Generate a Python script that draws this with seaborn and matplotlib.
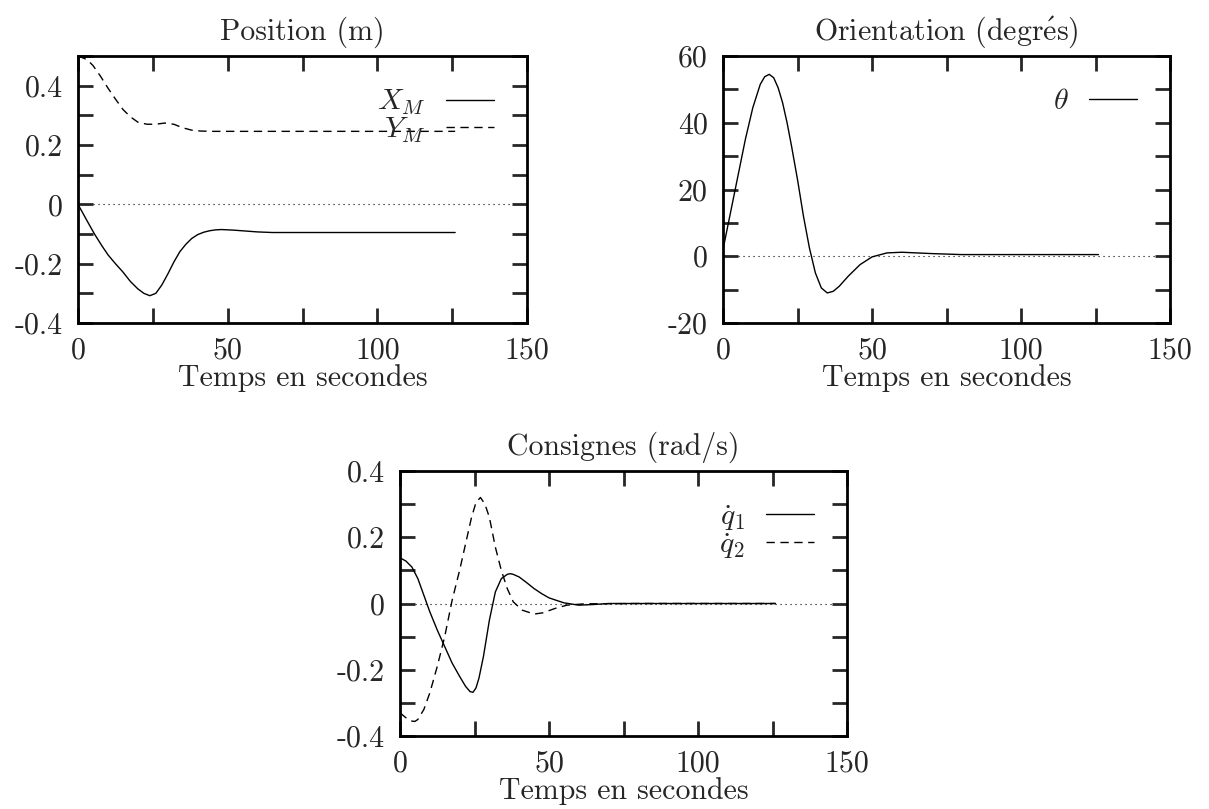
import numpy as np
import matplotlib
matplotlib.use("Agg")
import matplotlib.pyplot as plt
import seaborn as sns

# Position (m)
t_x = [0, 3, 5.5, 8, 10, 12.5, 15, 17.5, 20, 22, 24, 26, 28, 30, 32, 34, 36, 38, 40, 42, 44, 46, 48, 52, 56, 60, 65, 80, 100, 126]
x_m = [0, -0.055, -0.1, -0.14, -0.17, -0.2, -0.228, -0.26, -0.285, -0.3, -0.308, -0.3, -0.272, -0.235, -0.195, -0.16, -0.135, -0.115, -0.102, -0.094, -0.089, -0.086, -0.085, -0.087, -0.09, -0.093, -0.095, -0.095, -0.095, -0.095]
t_y = [0, 3, 5, 7.5, 10, 12.5, 15, 17.5, 20, 23, 26, 29, 32, 35, 38, 41, 45, 60, 80, 100, 126]
y_m = [0.5, 0.488, 0.468, 0.432, 0.392, 0.355, 0.32, 0.295, 0.277, 0.27, 0.27, 0.274, 0.27, 0.258, 0.25, 0.247, 0.246, 0.246, 0.246, 0.246, 0.246]

# Orientation (degres)
t_th = [0, 2.5, 5, 7.5, 10, 12.5, 14, 15.5, 17, 18.5, 20, 21.5, 23, 25, 27, 29, 31, 33, 35, 37, 39, 42, 46, 50, 55, 60, 70, 80, 100, 126]
theta = [2, 13, 24, 35, 44.5, 51.5, 53.8, 54.5, 53.5, 50.5, 46, 40, 33, 23, 12, 2.5, -5, -9.5, -11, -10.5, -9, -6, -2.5, -0.2, 1, 1.2, 0.8, 0.5, 0.5, 0.5]

# Consignes (rad/s)
t_q = [0, 2, 4, 6, 8, 10, 12.5, 15, 17.5, 20, 22, 23.5, 24.5, 25.5, 26.5, 28, 30, 32, 34, 36, 37, 38, 40, 42.5, 45, 47.5, 50, 55, 60, 65, 70, 80, 100, 126]
q1 = [0.138, 0.128, 0.11, 0.075, 0.025, -0.025, -0.08, -0.13, -0.18, -0.22, -0.25, -0.266, -0.268, -0.255, -0.225, -0.16, -0.05, 0.035, 0.075, 0.088, 0.09, 0.088, 0.08, 0.063, 0.045, 0.03, 0.017, 0.002, -0.005, -0.003, 0, 0, 0, 0]
t_q2 = [0, 2, 4, 5, 6, 8, 10, 12.5, 15, 17.5, 20, 22, 24, 25.5, 27, 28.5, 30, 32, 34, 36, 38, 41, 45, 48, 52, 56, 62, 80, 100, 126]
q2 = [-0.33, -0.345, -0.355, -0.356, -0.35, -0.32, -0.27, -0.19, -0.1, 0.01, 0.1, 0.18, 0.26, 0.305, 0.32, 0.3, 0.26, 0.17, 0.1, 0.045, 0.005, -0.02, -0.032, -0.028, -0.015, -0.005, -0.001, 0, 0, 0]

sns.set_style("white")
plt.rcParams['font.family'] = ['cmr10', 'DejaVu Serif']
plt.rcParams['mathtext.fontset'] = 'cm'

fig = plt.figure(figsize=(12.09, 8.09), dpi=100)
W, H = 1209, 809
DASH = (0, (6, 4))
FS = 21.5


def make_axes(left, top, right, bottom):
    return fig.add_axes([left / W, 1 - bottom / H, (right - left) / W, (bottom - top) / H])


def style(ax, ymin, ymax, ystep, ylabels, title):
    ax.set_xlim(0, 150)
    ax.set_ylim(ymin, ymax)
    xt = np.arange(0, 151, 25)
    ax.set_xticks(xt)
    ax.set_xticklabels([str(int(v)) if v % 50 == 0 else '' for v in xt])
    yt = np.round(np.arange(ymin, ymax + ystep / 2, ystep), 3)
    ax.set_yticks(yt)
    ax.set_yticklabels([ylabels.get(round(v, 3), '') for v in yt])
    ax.tick_params(direction='in', length=11, width=2, top=True, right=True,
                   bottom=True, left=True, labelsize=FS)
    ax.tick_params(axis='y', pad=11)
    ax.tick_params(axis='x', pad=10)
    for s in ax.spines.values():
        s.set_linewidth(2)
        s.set_color('black')
    ax.axhline(0, color='black', lw=0.8, ls=(0, (1, 3.5)), zorder=0)
    ax.set_xlabel('Temps en secondes', fontsize=FS, labelpad=0)
    ax.set_ylabel('')
    ax.set_title(title, fontsize=FS, pad=12)


def legend(ax, y_top):
    ax.legend(loc='upper right', frameon=False, markerfirst=False, handlelength=1.6,
              handletextpad=0.7, labelspacing=-0.05, fontsize=FS, borderpad=0,
              borderaxespad=0, bbox_to_anchor=(0.926, y_top))


# Position
ax1 = make_axes(78, 56, 527, 323)
sns.lineplot(x=t_x, y=x_m, ax=ax1, color='black', lw=1, label=r'$X_M$')
sns.lineplot(x=t_y, y=y_m, ax=ax1, color='black', lw=1, ls=DASH, label=r'$Y_M$')
style(ax1, -0.4, 0.5, 0.1, {0.4: '0.4', 0.2: '0.2', 0.0: '0', -0.2: '-0.2', -0.4: '-0.4'}, 'Position (m)')
legend(ax1, 0.88)

# Orientation
ax2 = make_axes(723, 56, 1170, 323)
sns.lineplot(x=t_th, y=theta, ax=ax2, color='black', lw=1, label=r'$\theta$')
style(ax2, -20, 60, 10, {60: '60', 40: '40', 20: '20', 0: '0', -20: '-20'},
      r'Orientation (degr$\acute{\mathrm{e}}$s)')
legend(ax2, 0.88)

# Consignes
ax3 = make_axes(400, 471, 847, 736)
sns.lineplot(x=t_q, y=q1, ax=ax3, color='black', lw=1, label=r'$\dot{q}_1$')
sns.lineplot(x=t_q2, y=q2, ax=ax3, color='black', lw=1, ls=DASH, label=r'$\dot{q}_2$')
style(ax3, -0.4, 0.4, 0.1, {0.4: '0.4', 0.2: '0.2', 0.0: '0', -0.2: '-0.2', -0.4: '-0.4'}, 'Consignes (rad/s)')
legend(ax3, 0.88)

fig.savefig('out.png', dpi=100)
